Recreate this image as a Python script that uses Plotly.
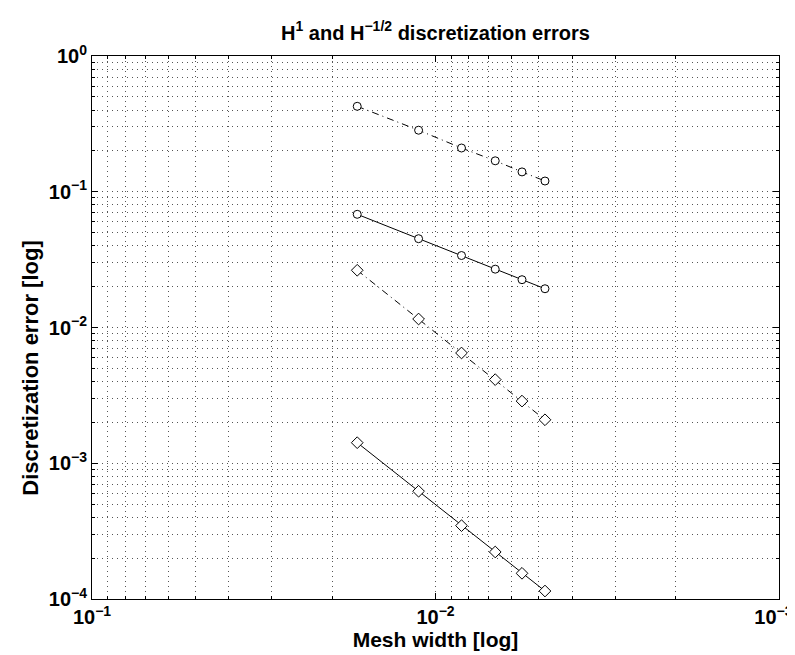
import plotly.graph_objects as go

# mesh widths (x)
mesh_width = [0.0169, 0.0112, 0.0084, 0.0067, 0.0056, 0.0048]

# discretization errors
err_circle_dashdot = [0.426, 0.284, 0.210, 0.169, 0.140, 0.120]
err_circle_solid = [0.0682, 0.0451, 0.0339, 0.0269, 0.0225, 0.0193]
err_diamond_dashdot = [0.0264, 0.01155, 0.00649, 0.00413, 0.00287, 0.00209]
err_diamond_solid = [0.001417, 0.000622, 0.000347, 0.000222, 0.0001546, 0.0001145]

x_tickvals = [1e-1, 1e-2, 1e-3]
x_ticktext = ["10<sup>−1</sup>", "10<sup>−2</sup>", "10<sup>−3</sup>\u00a0\u00a0"]
y_tickvals = [1, 1e-1, 1e-2, 1e-3, 1e-4]
y_ticktext = ["10<sup>0</sup>", "10<sup>−1</sup>", "10<sup>−2</sup>", "10<sup>−3</sup>", "10<sup>−4</sup>"]

x_minor = [m * 10.0 ** e for e in (-3, -2) for m in range(2, 10)]
y_minor = [m * 10.0 ** e for e in (-4, -3, -2, -1) for m in range(2, 10)]

DASHDOT = "7px,4px,1px,4px"

series = [
    (err_circle_dashdot, "circle", DASHDOT),
    (err_circle_solid, "circle", "solid"),
    (err_diamond_dashdot, "diamond", DASHDOT),
    (err_diamond_solid, "diamond", "solid"),
]

fig = go.Figure()
for ys, sym, dash in series:
    fig.add_trace(go.Scatter(
        x=mesh_width, y=ys, mode="lines+markers",
        line=dict(color="black", width=1, dash=dash),
        marker=dict(symbol=sym, size=8 if sym == "circle" else 9, color="white",
                    line=dict(color="black", width=1)),
        showlegend=False,
    ))

FONT = "Liberation Sans, Arial, sans-serif"
grid_col = "#555555"
GRIDDASH = "1px,4px"

axis_common = dict(
    type="log",
    automargin=False,
    showline=True, linecolor="black", linewidth=1, mirror="allticks",
    ticks="inside", ticklen=6, tickcolor="black", tickwidth=1,
    showgrid=True, gridcolor=grid_col, griddash=GRIDDASH, gridwidth=1,
    zeroline=False,
    ticklabeloverflow="allow",
    tickfont=dict(family=FONT, size=20, color="black", weight="bold"),
    title_font=dict(family=FONT, size=21, color="black", weight="bold"),
)

fig.update_xaxes(
    **axis_common,
    range=[-1, -3],
    tickmode="array", tickvals=x_tickvals, ticktext=x_ticktext,
    minor=dict(tickmode="array", tickvals=x_minor, ticks="inside", ticklen=3,
               tickcolor="black", showgrid=True, gridcolor=grid_col, griddash=GRIDDASH, gridwidth=1),
    title=dict(text="Mesh width [log]", standoff=0),
)
fig.update_yaxes(
    **axis_common,
    range=[-4, 0],
    tickmode="array", tickvals=y_tickvals, ticktext=y_ticktext,
    minor=dict(tickmode="array", tickvals=y_minor, ticks="inside", ticklen=3,
               tickcolor="black", showgrid=True, gridcolor=grid_col, griddash=GRIDDASH, gridwidth=1),
)

fig.add_annotation(
    text="Discretization error [log]", textangle=-90,
    xref="paper", yref="paper", x=-0.0895, y=0.425,
    xanchor="center", yanchor="middle", showarrow=False,
    font=dict(family=FONT, size=22, color="black", weight="bold"),
)

fig.update_layout(
    width=795, height=655,
    margin=dict(l=84, r=24, t=48, b=64),
    paper_bgcolor="white", plot_bgcolor="white",
    title=dict(text="H<sup>1</sup> and H<sup>−1/2</sup> discretization errors",
               x=0.5, xanchor="center", xref="paper", y=0.962, yanchor="middle",
               font=dict(family=FONT, size=20, color="black", weight="bold")),
)

fig.write_html("out.html")
